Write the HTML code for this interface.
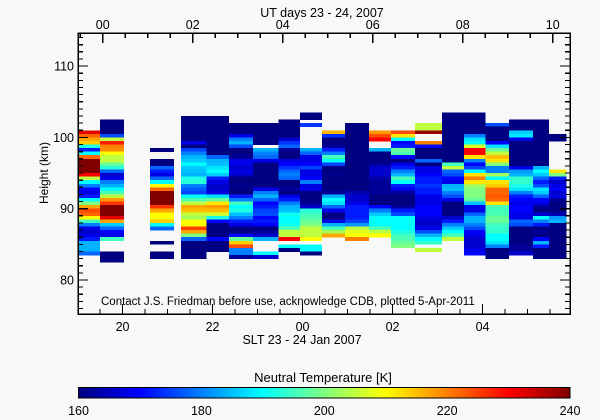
<!DOCTYPE html>
<html><head><meta charset="utf-8">
<style>
html,body{margin:0;padding:0;background:#f8f8f8;}
svg{display:block;font-family:"Liberation Sans",sans-serif;}
text{fill:#000;}
</style></head>
<body>
<svg id="chart" width="600" height="420" viewBox="0 0 600 420" xmlns="http://www.w3.org/2000/svg" shape-rendering="crispEdges">
<rect x="0" y="0" width="600" height="420" fill="#f8f8f8"/>
<g id="cells"></g>
<g id="axes"></g>
<text x="101" y="305" font-size="11.5">Contact J.S. Friedman before use, acknowledge CDB, plotted 5-Apr-2011</text>
<text x="322" y="17" font-size="12.5" text-anchor="middle">UT days 23 - 24, 2007</text>
<text x="302" y="344" font-size="12.5" text-anchor="middle">SLT 23 - 24 Jan 2007</text>
<text x="48" y="173" font-size="12" text-anchor="middle" transform="rotate(-90 48 173)">Height (km)</text>
<defs>
<linearGradient id="jet" x1="0" x2="1" y1="0" y2="0">
<stop offset="0" stop-color="#000080"/><stop offset="0.125" stop-color="#0000ff"/><stop offset="0.375" stop-color="#00ffff"/><stop offset="0.625" stop-color="#ffff00"/><stop offset="0.875" stop-color="#ff0000"/><stop offset="1" stop-color="#800000"/>
</linearGradient>
</defs>
<text x="323" y="382" font-size="13" text-anchor="middle">Neutral Temperature [K]</text>
<rect x="78.5" y="387.5" width="491.5" height="10.5" fill="url(#jet)" stroke="#000" stroke-width="1"/>
<g id="cbticks"></g>
</svg>
<script>
const tStart=[19.02,19.50,20.61,21.30,21.86,22.37,22.90,23.46,23.94,24.43,24.94,25.48,25.97,26.50,27.10,27.59,28.06,28.59,29.12,29.48];
const tEnd=[19.50,20.03,21.14,21.86,22.37,22.90,23.46,23.94,24.43,24.94,25.48,25.97,26.50,27.10,27.59,28.06,28.59,29.12,29.48,29.86];
const topKm=[101,102.5,98.5,103,103,102,102,102.5,103.5,101,102,101,101,102,103.5,103.5,102,102.5,102.5,100.5];
const tempA=[232,222,217,214,192,172,190,222,240,240,240,240,230,205,190,180,170,168,172,190,200,217,224,222,210,195,180,168,166,168,172,184,184,184,178];
const tempB=[160,160,160,160,176,205,228,220,219,210,205,205,198,193,178,166,168,180,184,190,196,205,218,226,240,240,240,232,217,186,178,170,168,195,null,null,null,160,160,160];
const tempC=[160,null,null,160,160,178,172,168,178,190,210,222,240,240,240,240,226,217,210,210,214,190,178,null,null,null,160,null,null,160,160];
const tempD=[160,160,160,160,160,160,160,168,160,175,180,184,186,190,186,185,184,192,193,180,177,175,190,196,205,217,215,205,203,210,210,225,217,200,178,160,160,160,160,160];
const tempE=[160,160,160,160,160,160,160,160,160,160,160,178,184,185,188,190,186,172,168,166,166,168,188,198,212,218,215,206,192,170,160,160,160,160,170,160,160,160];
const tempF=[160,160,160,168,180,184,176,160,160,162,168,168,166,168,166,160,160,161,160,160,172,180,195,190,192,185,180,172,168,160,160,170,198,214,224,180,180,162];
const tempG=[160,160,160,160,160,160,null,184,180,178,168,160,160,160,160,160,160,160,168,180,184,178,170,172,175,176,170,172,170,160,162,166,184,null,null,null,190,166];
const tempH=[160,160,160,160,160,166,174,178,162,160,160,168,170,174,178,180,178,160,160,162,160,168,172,180,184,185,191,190,190,191,196,205,205,230,null,190,160];
const tempI=[160,160,null,174,null,null,null,null,null,null,184,178,168,168,170,175,168,168,170,180,168,168,160,160,160,162,166,193,195,196,198,200,205,205,205,210,null,190,190,160];
const tempJ=[216,174,160,160,162,172,180,195,190,175,160,160,161,160,160,160,160,162,184,190,188,178,168,160,160,168,184,196,203,217];
const tempK=[160,160,160,160,160,160,160,160,160,160,160,160,160,160,160,160,160,160,160,164,166,166,168,172,172,172,172,175,182,205,208,210,220];
const tempL=[218,224,230,null,null,184,160,160,160,162,166,166,166,163,162,162,162,162,160,160,160,170,180,186,190,190,190,196,205,210];
const tempM=[224,212,190,170,172,198,196,170,160,168,172,180,184,196,190,172,168,162,160,160,160,162,172,176,190,190,190,190,192,195,196,198,200];
const tempN=[205,205,238,null,null,220,170,160,160,160,178,160,168,168,170,172,172,174,172,172,168,168,168,170,170,170,168,166,166,168,176,184,190,194,null,205];
const tempO=[160,160,160,160,160,160,160,160,160,160,160,160,160,160,195,205,178,176,170,168,184,185,180,176,168,160,160,160,160,166,172,180,186,190,196,205];
const tempP=[160,160,160,160,160,160,180,188,190,207,230,230,212,180,170,175,190,212,220,212,203,200,200,200,198,185,168,168,178,184,184,180,176,170,168,166,166,166,168,170];
const tempQ=[176,160,160,160,160,170,188,198,205,215,212,200,180,180,203,190,212,214,222,222,223,222,212,196,195,196,198,198,195,194,194,190,190,188,180,160,160,160];
const tempR=[160,160,160,186,188,168,160,160,160,160,160,160,160,168,182,184,194,194,192,188,180,172,170,168,170,170,168,168,178,176,160,160,160,160,160,162,162,166];
const tempS=[160,160,160,160,160,160,160,160,160,160,160,160,160,184,190,186,178,172,176,188,186,178,170,168,162,160,166,190,180,172,160,162,160,170,184,172,160,160,160];
const tempT=[160,160,null,null,null,null,null,null,null,null,212,200,172,166,168,170,166,168,162,160,160,160,164,182,184,160,160,160,160,160,160,160,160,160,160];
const temps=[tempA,tempB,tempC,tempD,tempE,tempF,tempG,tempH,tempI,tempJ,tempK,tempL,tempM,tempN,tempO,tempP,tempQ,tempR,tempS,tempT];
const rowKm=0.5;
const yTicks=[80,90,100,110];
const xTickLabels=['20','22','00','02','04'];
const xTickHours=[20,22,24,26,28];
const utLabels=['00','02','04','06','08','10'];
const utHours=[19.56,21.56,23.56,25.56,27.56,29.56];
const cbValues=[160,180,200,220,240];

const NS='http://www.w3.org/2000/svg';
const L=78,R=570,T=33,B=314;
function X(t){return L+(t-19.01)*45;}
function Y(h){return 280-(h-80)*7.13;}
function jet(v){const t=Math.max(0,Math.min(1,(v-160)/80));
 const c=u=>Math.round(255*Math.max(0,Math.min(1,1.5-Math.abs(u))));
 return 'rgb('+c(4*t-3)+','+c(4*t-2)+','+c(4*t-1)+')';}
function mk(tag,attrs,parent){const e=document.createElementNS(NS,tag);for(const k in attrs)e.setAttribute(k,attrs[k]);parent.appendChild(e);return e;}

const cells=document.getElementById('cells');
temps.forEach((col,ci)=>{
 const x0=X(tStart[ci]),x1=X(tEnd[ci]);
 col.forEach((v,ri)=>{
  if(v===null)return;
  const hTop=topKm[ci]-ri*rowKm;
  const y0=Y(hTop),y1=Y(hTop-rowKm);
  const r=mk('rect',{x:x0.toFixed(2),y:y0.toFixed(2),width:(x1-x0).toFixed(2),height:(y1-y0+0.3).toFixed(2),fill:jet(v)},cells);
  
  
 });
});

const ax=document.getElementById('axes');
const frame=mk('rect',{x:L,y:T,width:R-L,height:B-T,fill:'none',stroke:'#000','stroke-width':1.5},ax);


// y minor ticks every 1 km
for(let h=76;h<=114;h++){
 const y=Y(h);if(y<T||y>B)continue;
 const len=(h%10===0)?10:5;
 mk('line',{x1:L,x2:L+len,y1:y,y2:y,stroke:'#000','stroke-width':1.2},ax);
 mk('line',{x1:R,x2:R-len,y1:y,y2:y,stroke:'#000','stroke-width':1.2},ax);
}
yTicks.forEach(v=>{
 const t=mk('text',{x:74,y:Y(v)+4.5,'font-size':12.5,'text-anchor':'end'},ax);
 t.textContent=String(v);
 
 
});
// bottom ticks every half hour
for(let k=0;k<30;k++){
 const t=19+k*0.5;const x=X(t);if(x<L||x>R)continue;
 const major=(Math.abs(t%2)<0.01);
 mk('line',{x1:x,x2:x,y1:B,y2:B-(major?10:5),stroke:'#000','stroke-width':1.2},ax);
}
xTickHours.forEach((h,i)=>{
 const t=mk('text',{x:X(h),y:331,'font-size':12.5,'text-anchor':'middle'},ax);
 t.textContent=xTickLabels[i];
 
 
});
// top ticks
for(let k=-2;k<24;k++){
 const t=19.56+k*0.5;const x=X(t);if(x<L||x>R)continue;
 const major=(k%4===0);
 mk('line',{x1:x,x2:x,y1:T,y2:T+(major?10:5),stroke:'#000','stroke-width':1.2},ax);
}
utHours.forEach((h,i)=>{
 const t=mk('text',{x:X(h),y:29,'font-size':12.5,'text-anchor':'middle'},ax);
 t.textContent=utLabels[i];
 
 
});
const cb=document.getElementById('cbticks');
cbValues.forEach(v=>{
 const x=78.5+(v-160)/80*491.5;
 const t=mk('text',{x:x,y:415,'font-size':12.5,'text-anchor':'middle'},cb);
 t.textContent=String(v);
 
 
});
</script>
</body></html>
